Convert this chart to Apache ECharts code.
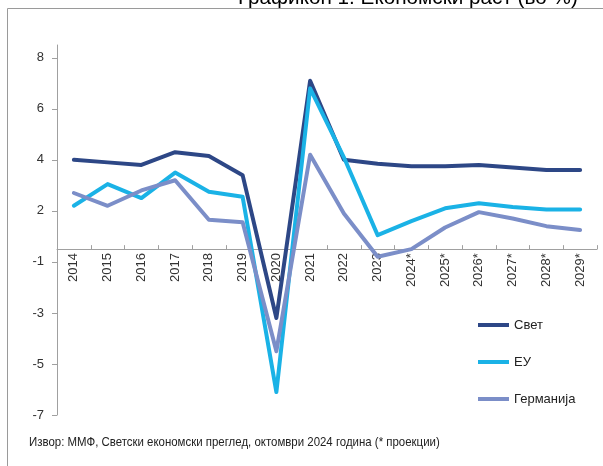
<!DOCTYPE html>
<html>
<head>
<meta charset="utf-8">
<script src="https://cdn.jsdelivr.net/npm/echarts@6/dist/echarts.min.js"></script>
<style>
html,body{margin:0;padding:0;background:#fff;}
#chart{width:603px;height:466px;}
</style>
</head>
<body>
<div id="chart"></div>
<script>
const categories = ['2014','2015','2016','2017','2018','2019','2020','2021','2022','2023','2024*','2025*','2026*','2027*','2028*','2029*'];
const svet = [3.5, 3.4, 3.3, 3.8, 3.65, 2.9, -2.7, 6.6, 3.5, 3.35, 3.25, 3.25, 3.3, 3.2, 3.1, 3.1];
const eu = [1.7, 2.55, 2.0, 3.0, 2.25, 2.05, -5.6, 6.3, 3.6, 0.55, 1.1, 1.6, 1.8, 1.65, 1.55, 1.55];
const germany = [2.2, 1.7, 2.3, 2.7, 1.15, 1.05, -4.0, 3.7, 1.4, -0.3, 0.0, 0.85, 1.45, 1.2, 0.9, 0.75];
const seriesNames = ['Свет', 'ЕУ', 'Германија'];
const yTicks = [-6.5, -4.5, -2.5, -0.5, 1.5, 3.5, 5.5, 7.5];
const titleText = 'Графикон 1. Економски раст (во %)';
const sourceText = 'Извор: ММФ, Светски економски преглед, октомври 2024 година (* проекции)';

const colors = ['#2d4786', '#1ab2e6', '#7b8ec8'];
const narrow = '"Liberation Sans Narrow", "Liberation Sans", Arial, sans-serif';
function fmt(v){ const r = Math.sign(v) * Math.round(Math.abs(v)); return String(r); }

const W = 603, H = 466;
const gTop = 45, gBottom = 51, yMin = -6.5, yMax = 8;
const gH = H - gTop - gBottom;
const zeroY = gTop + (yMax - 0) / (yMax - yMin) * gH;
const xOffset = -((H - gBottom) - zeroY);

const chart = echarts.init(document.getElementById('chart'), null, {renderer:'canvas'});
const data = [svet, eu, germany];
chart.setOption({
  animation: false,
  backgroundColor: '#fff',
  graphic: [
    {type:'rect', z:0, shape:{x:7.5, y:8.5, width:640, height:500}, style:{fill:'none', stroke:'#9a9a9a', lineWidth:1}},
    {type:'text', z:10, x:238, y:9, style:{text:titleText, x:0, y:0, verticalAlign:'bottom', fill:'#000', font:'20.7px "Liberation Sans", Arial, sans-serif'}},
    {type:'text', z:10, x:29, y:442, scaleX:0.88, style:{text:sourceText, x:0, y:0, verticalAlign:'middle', fill:'#222', font:'13px ' + narrow}}
  ],
  grid: {left:57, right:6, top:gTop, bottom:gBottom, containLabel:false},
  legend: {
    orient:'vertical', left:473, top:313, itemWidth:31, itemHeight:4, itemGap:23,
    icon:'rect',
    data: seriesNames,
    textStyle:{fontFamily:narrow, fontSize:13, lineHeight:14, color:'#222'}
  },
  xAxis: {
    type:'category', data:categories, boundaryGap:true, position:'bottom', offset:xOffset,
    axisLine:{onZero:false, lineStyle:{color:'#a0a0a0', width:1}},
    axisTick:{show:true, inside:true, length:4, lineStyle:{color:'#a0a0a0'}},
    axisLabel:{rotate:90, margin:4, fontFamily:narrow, fontSize:13, color:'#333', interval:0},
    splitLine:{show:false}
  },
  yAxis: {
    type:'value', min:yMin, max:yMax,
    axisLine:{show:true, lineStyle:{color:'#a0a0a0', width:1}},
    axisTick:{show:true, inside:false, length:5, customValues: yTicks, lineStyle:{color:'#a0a0a0'}},
    axisLabel:{customValues: yTicks, formatter: fmt, margin:13, fontFamily:narrow, fontSize:13, color:'#333'},
    splitLine:{show:false}
  },
  series: seriesNames.map((n, i) => ({
    name:n, type:'line', data:data[i], symbol:'none', smooth:false,
    color: colors[i],
    itemStyle:{color:colors[i]},
    lineStyle:{color:colors[i], width:4, join:'round', cap:'round'},
    z: 2 + i
  }))
});
</script>
</body>
</html>
